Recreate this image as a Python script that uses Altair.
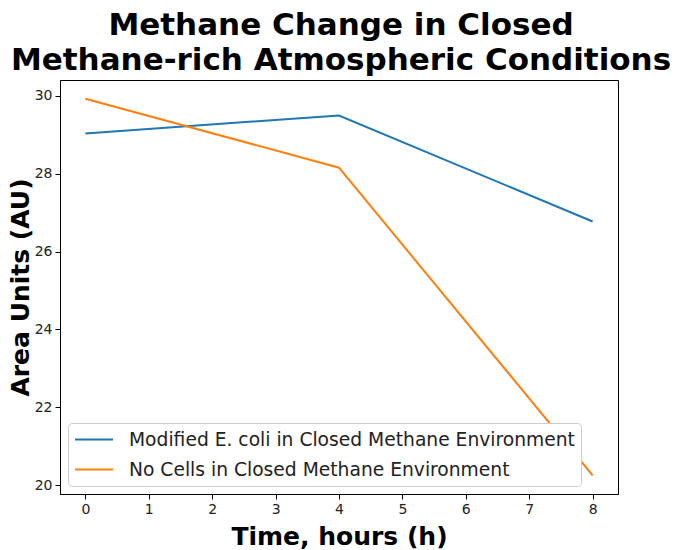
import altair as alt
import pandas as pd

hours = [0, 4, 8]
ecoli = [29.03, 29.49, 26.77]
nocells = [29.92, 28.15, 20.26]
series_names = ["Modified E. coli in Closed Methane Environment",
                "No Cells in Closed Methane Environment"]
colors = ["#1f77b4", "#ff7f0e"]
x_ticks = [0, 1, 2, 3, 4, 5, 6, 7, 8]
y_ticks = [20, 22, 24, 26, 28, 30]

rows = []
for name, vals in zip(series_names, [ecoli, nocells]):
    for h, v in zip(hours, vals):
        rows.append({"hours": h, "value": v, "series": name})
df = pd.DataFrame(rows)

FONT = "DejaVu Sans"

chart = alt.Chart(df).mark_line(strokeWidth=2).encode(
    x=alt.X("hours:Q",
            scale=alt.Scale(domain=[-0.4, 8.4], nice=False, zero=False),
            axis=alt.Axis(values=x_ticks, title="Time, hours (h)", format="d",
                          titlePadding=8, labelPadding=3)),
    y=alt.Y("value:Q",
            scale=alt.Scale(domain=[19.78, 30.40], nice=False, zero=False),
            axis=alt.Axis(values=y_ticks, title="Area Units (AU)", format="d",
                          titlePadding=1, labelPadding=3)),
    color=alt.Color("series:N",
                    scale=alt.Scale(domain=series_names, range=colors),
                    sort=series_names,
                    legend=alt.Legend(orient="none", legendX=8, legendY=343,
                                      title=None)),
).properties(
    width=558,
    height=414,
    autosize=alt.AutoSizeParams(type="none"),
    padding={"left": 52, "top": 72, "right": 54, "bottom": 56},
    title=alt.TitleParams(
        text=["Methane Change in Closed", "Methane-rich Atmospheric Conditions"],
        font=FONT, fontSize=31, fontWeight="bold", color="black",
        lineHeight=35, anchor="middle", offset=3, dx=2,
    ),
).configure_view(
    stroke="black", strokeWidth=1
).configure_axis(
    grid=False,
    domain=True, domainColor="black",
    tickColor="black", tickSize=5,
    labelFont=FONT, labelFontSize=14, labelColor="#222",
    titleFont=FONT, titleFontSize=25, titleFontWeight="bold", titleColor="black",
).configure_legend(
    symbolType="M-1,0H3", symbolSize=361, symbolStrokeWidth=2,
    labelFont=FONT, labelFontSize=18.7, labelColor="#222", labelOffset=34,
    labelLimit=0,
    padding=6, rowPadding=9,
    strokeColor="#cccccc", fillColor="white", cornerRadius=4,
)

chart.save("out.html", embed_options={"renderer": "svg", "actions": False})
